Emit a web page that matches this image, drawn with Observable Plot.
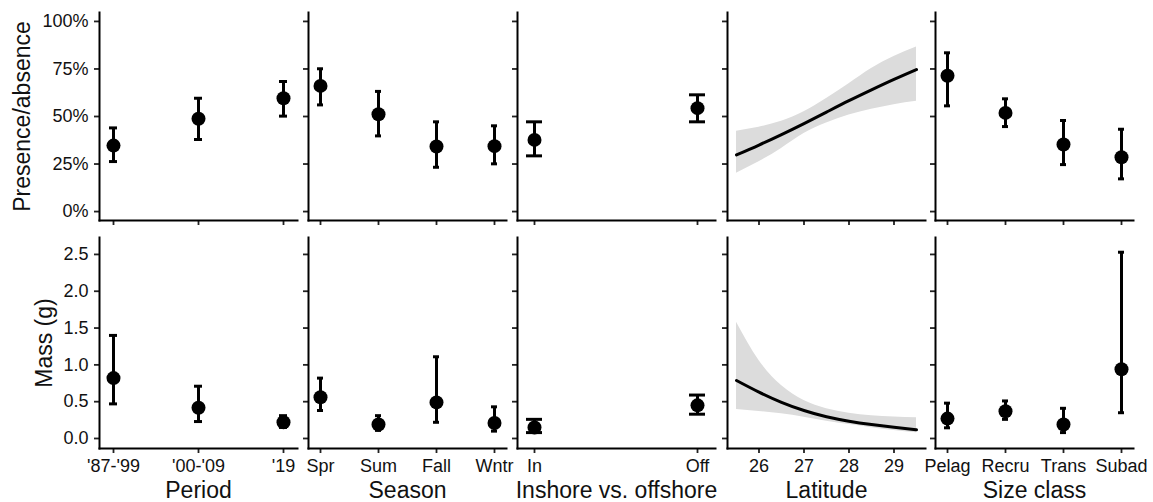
<!DOCTYPE html>
<html><head><meta charset="utf-8">
<script src="https://cdn.jsdelivr.net/npm/d3@7"></script>
<script src="https://cdn.jsdelivr.net/npm/@observablehq/plot@0.6"></script>
<style>
body{margin:0;background:#fff;}
#chart{position:relative;width:1153px;height:502px;font-family:"Liberation Sans",Arial,sans-serif;background:#fff;}
#chart svg{position:absolute;overflow:visible;background:transparent;}
</style></head><body><div id="chart"></div>
<script>
// ---- data ----
const periodCats = ["'87-'99", "'00-'09", "'19"];
const periodPresEst = [0.347, 0.488, 0.596];
const periodPresLo  = [0.263, 0.379, 0.502];
const periodPresHi  = [0.440, 0.596, 0.684];
const periodMassEst = [0.82, 0.417, 0.22];
const periodMassLo  = [0.47, 0.23, 0.15];
const periodMassHi  = [1.40, 0.71, 0.31];

const seasonCats = ["Spr", "Sum", "Fall", "Wntr"];
const seasonPresEst = [0.661, 0.512, 0.342, 0.344];
const seasonPresLo  = [0.561, 0.398, 0.233, 0.251];
const seasonPresHi  = [0.751, 0.632, 0.472, 0.451];
const seasonMassEst = [0.56, 0.19, 0.49, 0.21];
const seasonMassLo  = [0.38, 0.11, 0.22, 0.10];
const seasonMassHi  = [0.82, 0.31, 1.11, 0.43];

const shoreCats = ["In", "Off"];
const shorePresEst = [0.377, 0.544];
const shorePresLo  = [0.293, 0.472];
const shorePresHi  = [0.472, 0.614];
const shoreMassEst = [0.15, 0.45];
const shoreMassLo  = [0.08, 0.33];
const shoreMassHi  = [0.26, 0.59];

const latitude = [25.5, 26, 26.5, 27, 27.5, 28, 28.5, 29, 29.5];
const latPresFit = [0.298, 0.350, 0.405, 0.463, 0.523, 0.583, 0.640, 0.695, 0.747];
const latPresLo  = [0.202, 0.262, 0.332, 0.410, 0.466, 0.508, 0.538, 0.562, 0.580];
const latPresHi  = [0.423, 0.444, 0.475, 0.525, 0.595, 0.672, 0.752, 0.815, 0.865];
const latMassFit = [0.788, 0.630, 0.492, 0.380, 0.295, 0.235, 0.190, 0.152, 0.118];
const latMassLo  = [0.394, 0.367, 0.335, 0.290, 0.235, 0.190, 0.147, 0.110, 0.077];
const latMassHi  = [1.58, 1.06, 0.72, 0.516, 0.405, 0.344, 0.310, 0.292, 0.280];
const latTicks = [26, 27, 28, 29];

const sizeCats = ["Pelag", "Recru", "Trans", "Subad"];
const sizePresEst = [0.714, 0.519, 0.353, 0.286];
const sizePresLo  = [0.556, 0.447, 0.247, 0.172];
const sizePresHi  = [0.835, 0.593, 0.479, 0.433];
const sizeMassEst = [0.27, 0.37, 0.19, 0.94];
const sizeMassLo  = [0.145, 0.26, 0.08, 0.35];
const sizeMassHi  = [0.48, 0.51, 0.41, 2.53];

const presTicks = [0, 0.25, 0.5, 0.75, 1];
const massTicks = [0, 0.5, 1, 1.5, 2, 2.5];
const xTitles = ["Period", "Season", "Inshore vs. offshore", "Latitude", "Size class"];
const yTitles = ["Presence/absence", "Mass (g)"];

// ---- layout ----
const FONT = "Liberation Sans, Arial, sans-serif";
const frameLeft = [99, 308, 517, 727, 935];
const frameW = 198;
const rowsCfg = [
  {top: 0, marginTop: 12, frameH: 208, marginBottom: 12, domain: [-0.047, 1.047], ticks: presTicks,
   fmt: d => Math.round(d * 100) + "%", titleDx: -77},
  {top: 225, marginTop: 12, frameH: 211, marginBottom: 54, domain: [-0.136, 2.73], ticks: massTicks,
   fmt: d => d.toFixed(1), titleDx: -55}
];
const panels = [
  {cats: periodCats, est: [periodPresEst, periodMassEst], lo: [periodPresLo, periodMassLo], hi: [periodPresHi, periodMassHi]},
  {cats: seasonCats, est: [seasonPresEst, seasonMassEst], lo: [seasonPresLo, seasonMassLo], hi: [seasonPresHi, seasonMassHi]},
  {cats: shoreCats, est: [shorePresEst, shoreMassEst], lo: [shorePresLo, shoreMassLo], hi: [shorePresHi, shoreMassHi]},
  {lat: true, est: [latPresFit, latMassFit], lo: [latPresLo, latMassLo], hi: [latPresHi, latMassHi]},
  {cats: sizeCats, est: [sizePresEst, sizeMassEst], lo: [sizePresLo, sizeMassLo], hi: [sizePresHi, sizeMassHi]}
];

const chart = document.getElementById("chart");
const INK = "#111";
const TICKINK = "#222";
const TICKFS = 18;
const TITLEFS = 23;

panels.forEach((p, c) => {
  rowsCfg.forEach((rc, r) => {
    const marginLeft = c === 0 ? 99 : 12;
    const marginRight = 14;
    const width = marginLeft + frameW + marginRight;
    const height = rc.marginTop + rc.frameH + rc.marginBottom;
    const showX = r === 1;
    let xScale, marks = [];
    if (p.lat) {
      const data = latitude.map((x, i) => ({x, fit: p.est[r][i], lo: p.lo[r][i], hi: p.hi[r][i]}));
      xScale = {type: "linear", domain: [25.3, 29.7]};
      marks.push(
        Plot.areaY(data, {x: "x", y1: "lo", y2: "hi", fill: "#dcdcdc", curve: "natural"}),
        Plot.lineY(data, {x: "x", y: "fit", stroke: "#000", strokeWidth: 3, curve: "natural"}),
        Plot.axisX({ticks: latTicks, tickSize: 5, tickPadding: 6, fontSize: TICKFS, label: null,
          stroke: TICKINK, strokeWidth: 1.8, fill: INK,
          tickFormat: showX ? (d => String(d)) : (() => "")})
      );
    } else {
      const n = p.cats.length;
      const data = p.cats.map((cat, i) => ({cat, est: p.est[r][i], lo: p.lo[r][i], hi: p.hi[r][i]}));
      xScale = {type: "band", domain: p.cats, paddingInner: 0.9, paddingOuter: 0.05 * (n - 0.9), align: 0.5};
      marks.push(
        Plot.ruleX(data, {x: "cat", y1: "lo", y2: "hi", stroke: "#000", strokeWidth: 3}),
        Plot.tickY(data, {x: "cat", y: "lo", stroke: "#000", strokeWidth: 3}),
        Plot.tickY(data, {x: "cat", y: "hi", stroke: "#000", strokeWidth: 3}),
        Plot.dot(data, {x: "cat", y: "est", r: 7, fill: "#000", stroke: "none"}),
        Plot.axisX({tickSize: 5, tickPadding: 6, fontSize: TICKFS, label: null,
          stroke: TICKINK, strokeWidth: 1.8, fill: INK,
          tickFormat: showX ? (d => d) : (() => "")})
      );
    }
    marks.push(
      Plot.axisY({ticks: rc.ticks, tickSize: 5, tickPadding: 6, fontSize: TICKFS, label: null,
        stroke: TICKINK, strokeWidth: 1.8, fill: INK,
        tickFormat: c === 0 ? rc.fmt : (() => "")}),
      Plot.frame({anchor: "left", stroke: "#000", strokeWidth: 2}),
      Plot.frame({anchor: "bottom", stroke: "#000", strokeWidth: 2})
    );
    if (showX) {
      marks.push(Plot.text([xTitles[c]], {frameAnchor: "bottom", lineAnchor: "middle", textAnchor: "middle",
        dy: 42, fontSize: TITLEFS, fill: INK}));
    }
    if (c === 0) {
      marks.push(Plot.text([yTitles[r]], {frameAnchor: "left", textAnchor: "middle", lineAnchor: "middle",
        rotate: -90, dx: rc.titleDx, fontSize: TITLEFS, fill: INK}));
    }
    const svg = Plot.plot({
      width, height,
      marginLeft, marginRight, marginTop: rc.marginTop, marginBottom: rc.marginBottom,
      x: xScale,
      y: {domain: rc.domain},
      style: {background: "transparent", overflow: "visible", fontFamily: FONT},
      marks
    });
    svg.style.left = (frameLeft[c] - marginLeft) + "px";
    svg.style.top = rc.top + "px";
    chart.appendChild(svg);
  });
});
</script>
</body></html>
